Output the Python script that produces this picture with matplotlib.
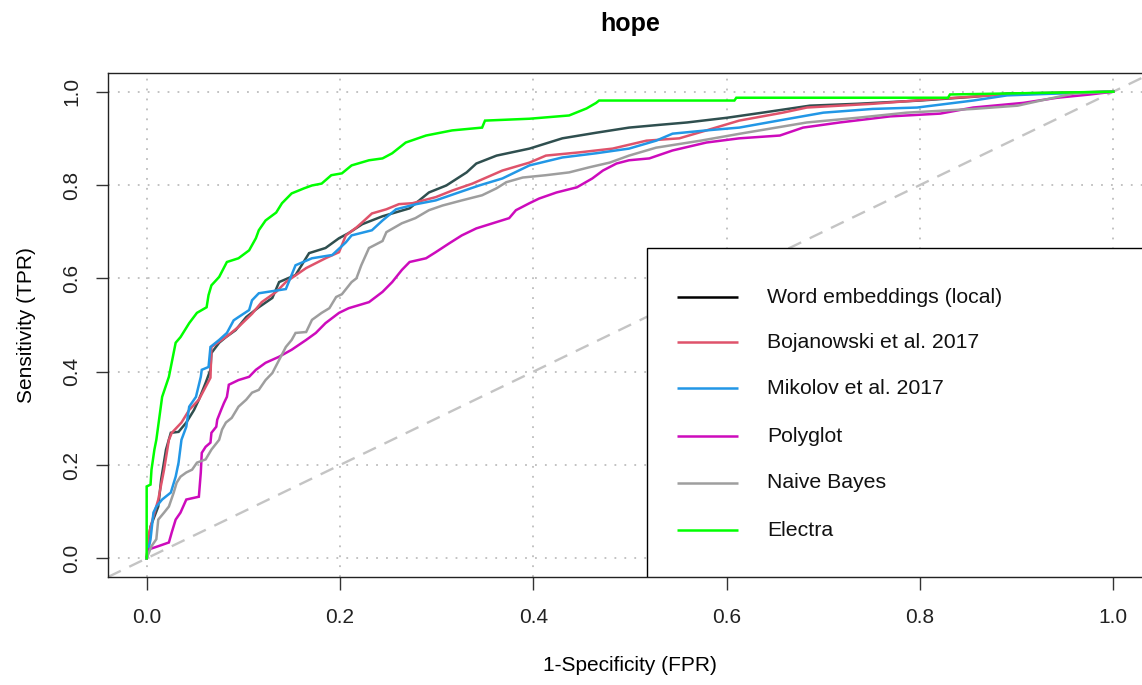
import matplotlib
matplotlib.use("Agg")
import matplotlib.pyplot as plt
from matplotlib.patches import Rectangle

plt.rcParams['font.family'] = ['Liberation Sans', 'DejaVu Sans']

# ROC curves read as (FPR, TPR) corner points
we_fpr = [0, 0.002, 0.004, 0.012, 0.015, 0.020, 0.025, 0.033, 0.041, 0.049, 0.054, 0.061, 0.066, 0.067,
          0.075, 0.082, 0.092, 0.103, 0.116, 0.130, 0.137, 0.154, 0.168, 0.185, 0.199, 0.209, 0.223, 0.244,
          0.272, 0.292, 0.310, 0.331, 0.341, 0.362, 0.396, 0.430, 0.465, 0.499, 0.531, 0.559, 0.600, 0.637,
          0.686, 0.735, 0.800, 0.855, 0.890, 0.952, 1.0]
we_tpr = [0, 0.040, 0.068, 0.111, 0.169, 0.233, 0.269, 0.271, 0.291, 0.318, 0.340, 0.376, 0.404, 0.440,
          0.462, 0.474, 0.489, 0.517, 0.538, 0.558, 0.592, 0.607, 0.654, 0.665, 0.686, 0.697, 0.716, 0.733,
          0.750, 0.784, 0.799, 0.827, 0.846, 0.863, 0.878, 0.900, 0.912, 0.923, 0.929, 0.934, 0.944, 0.955,
          0.970, 0.974, 0.981, 0.989, 0.996, 0.998, 1.0]

boj_fpr = [0, 0.002, 0.007, 0.012, 0.018, 0.023, 0.026, 0.036, 0.044, 0.054, 0.066, 0.067, 0.075, 0.085,
           0.095, 0.109, 0.119, 0.134, 0.144, 0.165, 0.185, 0.199, 0.206, 0.217, 0.223, 0.233, 0.248, 0.261,
           0.275, 0.299, 0.316, 0.337, 0.368, 0.396, 0.413, 0.448, 0.482, 0.517, 0.551, 0.579, 0.613, 0.658,
           0.683, 0.751, 0.821, 0.890, 1.0]
boj_tpr = [0, 0.050, 0.090, 0.126, 0.190, 0.254, 0.269, 0.291, 0.318, 0.340, 0.387, 0.453, 0.464, 0.479,
           0.496, 0.524, 0.549, 0.571, 0.592, 0.622, 0.643, 0.656, 0.692, 0.709, 0.720, 0.739, 0.748, 0.759,
           0.761, 0.774, 0.788, 0.803, 0.831, 0.848, 0.863, 0.870, 0.878, 0.895, 0.900, 0.917, 0.938, 0.955,
           0.966, 0.974, 0.985, 0.994, 1.0]

mik_fpr = [0, 0.004, 0.007, 0.010, 0.016, 0.025, 0.030, 0.033, 0.036, 0.041, 0.044, 0.051, 0.056, 0.057,
           0.064, 0.066, 0.075, 0.083, 0.090, 0.095, 0.106, 0.109, 0.116, 0.144, 0.154, 0.171, 0.192, 0.206,
           0.212, 0.233, 0.244, 0.258, 0.279, 0.299, 0.320, 0.344, 0.368, 0.396, 0.430, 0.465, 0.499, 0.527,
           0.544, 0.579, 0.613, 0.648, 0.700, 0.751, 0.797, 0.855, 0.890, 0.942, 1.0]
mik_tpr = [0, 0.041, 0.098, 0.111, 0.126, 0.141, 0.175, 0.205, 0.254, 0.282, 0.325, 0.346, 0.389, 0.404,
           0.410, 0.453, 0.468, 0.483, 0.510, 0.517, 0.532, 0.553, 0.568, 0.577, 0.628, 0.643, 0.650, 0.677,
           0.692, 0.703, 0.724, 0.748, 0.759, 0.767, 0.782, 0.799, 0.814, 0.842, 0.859, 0.868, 0.878, 0.895,
           0.910, 0.917, 0.923, 0.936, 0.955, 0.963, 0.966, 0.981, 0.992, 0.996, 1.0]

poly_fpr = [0, 0.002, 0.012, 0.023, 0.026, 0.030, 0.035, 0.041, 0.054, 0.056, 0.057, 0.061, 0.066, 0.067,
            0.072, 0.073, 0.077, 0.080, 0.083, 0.085, 0.095, 0.106, 0.113, 0.123, 0.137, 0.150, 0.165, 0.175,
            0.185, 0.199, 0.209, 0.230, 0.244, 0.254, 0.264, 0.272, 0.289, 0.299, 0.313, 0.326, 0.341, 0.358,
            0.375, 0.382, 0.396, 0.406, 0.424, 0.445, 0.461, 0.472, 0.486, 0.499, 0.520, 0.544, 0.579, 0.613,
            0.655, 0.679, 0.717, 0.769, 0.821, 0.855, 0.907, 0.942, 0.976, 1.0]
poly_tpr = [0, 0.019, 0.026, 0.034, 0.056, 0.083, 0.098, 0.126, 0.132, 0.184, 0.226, 0.239, 0.248, 0.269,
            0.282, 0.297, 0.318, 0.333, 0.346, 0.372, 0.382, 0.389, 0.404, 0.419, 0.432, 0.447, 0.468, 0.483,
            0.504, 0.526, 0.536, 0.549, 0.571, 0.592, 0.618, 0.635, 0.643, 0.656, 0.675, 0.692, 0.707, 0.718,
            0.729, 0.746, 0.761, 0.771, 0.784, 0.795, 0.814, 0.831, 0.846, 0.853, 0.857, 0.874, 0.891, 0.900,
            0.906, 0.923, 0.934, 0.947, 0.953, 0.966, 0.976, 0.987, 0.994, 1.0]

nb_fpr = [0, 0.005, 0.010, 0.012, 0.018, 0.023, 0.028, 0.031, 0.035, 0.041, 0.047, 0.052, 0.061, 0.067,
          0.075, 0.078, 0.082, 0.088, 0.095, 0.103, 0.109, 0.116, 0.123, 0.130, 0.137, 0.144, 0.150, 0.154,
          0.165, 0.171, 0.181, 0.189, 0.196, 0.202, 0.212, 0.217, 0.222, 0.230, 0.244, 0.248, 0.264, 0.278,
          0.292, 0.306, 0.326, 0.347, 0.362, 0.372, 0.389, 0.413, 0.437, 0.458, 0.479, 0.499, 0.527, 0.573,
          0.614, 0.683, 0.735, 0.786, 0.855, 0.901, 0.925, 0.959, 1.0]
nb_tpr = [0, 0.026, 0.041, 0.083, 0.098, 0.111, 0.141, 0.162, 0.175, 0.184, 0.190, 0.205, 0.212, 0.233,
          0.254, 0.276, 0.291, 0.301, 0.325, 0.340, 0.355, 0.361, 0.382, 0.397, 0.425, 0.453, 0.468, 0.483,
          0.485, 0.511, 0.526, 0.536, 0.560, 0.566, 0.592, 0.600, 0.628, 0.665, 0.680, 0.699, 0.718, 0.729,
          0.746, 0.756, 0.767, 0.778, 0.793, 0.806, 0.816, 0.821, 0.827, 0.838, 0.848, 0.863, 0.880, 0.895,
          0.910, 0.934, 0.944, 0.955, 0.963, 0.970, 0.981, 0.996, 1.0]

el_fpr = [0, 0, 0.004, 0.005, 0.008, 0.010, 0.016, 0.023, 0.030, 0.035, 0.044, 0.052, 0.062, 0.064, 0.067,
          0.075, 0.083, 0.095, 0.106, 0.113, 0.116, 0.123, 0.134, 0.140, 0.150, 0.163, 0.171, 0.181, 0.191,
          0.202, 0.212, 0.230, 0.244, 0.254, 0.268, 0.289, 0.316, 0.347, 0.350, 0.396, 0.437, 0.455, 0.465,
          0.468, 0.608, 0.610, 0.829, 0.831, 1.0]
el_tpr = [0, 0.154, 0.158, 0.190, 0.233, 0.254, 0.346, 0.389, 0.462, 0.474, 0.504, 0.526, 0.538, 0.564,
          0.585, 0.603, 0.635, 0.643, 0.660, 0.686, 0.703, 0.724, 0.741, 0.761, 0.782, 0.793, 0.799, 0.803,
          0.821, 0.825, 0.842, 0.853, 0.857, 0.868, 0.891, 0.906, 0.917, 0.923, 0.938, 0.942, 0.949, 0.964,
          0.976, 0.981, 0.981, 0.987, 0.987, 0.994, 1.0]

labels = ["Word embeddings (local)", "Bojanowski et al. 2017", "Mikolov et al. 2017",
          "Polyglot", "Naive Bayes", "Electra"]
curves = [(we_fpr, we_tpr), (boj_fpr, boj_tpr), (mik_fpr, mik_tpr),
          (poly_fpr, poly_tpr), (nb_fpr, nb_tpr), (el_fpr, el_tpr)]
line_colors = ["#2F4F4F", "#DF536B", "#2297E6", "#CD0BBC", "#9E9E9E", "#00FF00"]
key_colors = ["black", "#DF536B", "#2297E6", "#CD0BBC", "#9E9E9E", "#00FF00"]
ticks = [0.0, 0.2, 0.4, 0.6, 0.8, 1.0]

fig = plt.figure(figsize=(11.42, 6.85), dpi=100)
W, H = 1142, 685
# plot region in pixels: left 108, right 1152 (runs past the canvas), top 73, bottom 577
ax = fig.add_axes([108 / W, (H - 577) / H, (1152 - 108) / W, (577 - 73) / H])
ax.set_xlim(-0.04, 1.04)
ax.set_ylim(-0.04, 1.04)

# dotted grid
for t in ticks:
    ax.axvline(t, color="#BDBDBD", lw=1.3, ls=(0, (1, 4.5)), zorder=0)
    ax.axhline(t, color="#BDBDBD", lw=1.3, ls=(0, (1, 4.5)), zorder=0)

# chance diagonal
ax.axline((0, 0), slope=1, color="#C4C4C4", lw=1.7, ls=(0, (6, 4)), zorder=1)

for (fx, ty), col in zip(curves, line_colors):
    ax.plot(fx, ty, color=col, lw=1.8, zorder=2, solid_joinstyle="miter")

for s in ax.spines.values():
    s.set_linewidth(1.0)
    s.set_color("#222222")

ax.set_xticks(ticks)
ax.set_yticks(ticks)
ax.set_xticklabels([f"{t:.1f}" for t in ticks])
ax.set_yticklabels([f"{t:.1f}" for t in ticks], rotation=90, va="center")
ax.tick_params(axis="both", length=9, width=1.0, labelsize=15, color="#333333", labelcolor="#222222")
ax.tick_params(axis="x", pad=13)
ax.tick_params(axis="y", pad=10)

ax.set_title("hope", fontsize=18, fontweight="bold", pad=30)
ax.set_xlabel("1-Specificity (FPR)", fontsize=15, labelpad=21)
ax.set_ylabel("Sensitivity (TPR)", fontsize=15, labelpad=19)

# legend box in the lower right corner
lx0, ly0 = (647 - 108) / 1044, 0.0
lh = (577 - 248) / 504
ax.add_patch(Rectangle((lx0, ly0), 1 - lx0, lh, transform=ax.transAxes, facecolor="white",
                       edgecolor="black", lw=1.0, zorder=5))
row_y = [(577 - y) / 504 for y in (297, 342, 388, 436, 483, 530)]
for lab, col, yy in zip(labels, key_colors, row_y):
    ax.plot([(677 - 108) / 1044, (738 - 108) / 1044], [yy, yy], transform=ax.transAxes,
            color=col, lw=1.8, zorder=6, solid_capstyle="butt")
    ax.text((767 - 108) / 1044, yy, lab, transform=ax.transAxes, fontsize=15.3,
            va="center", ha="left", color="#111111", zorder=6)

fig.savefig("out.png", dpi=100)
